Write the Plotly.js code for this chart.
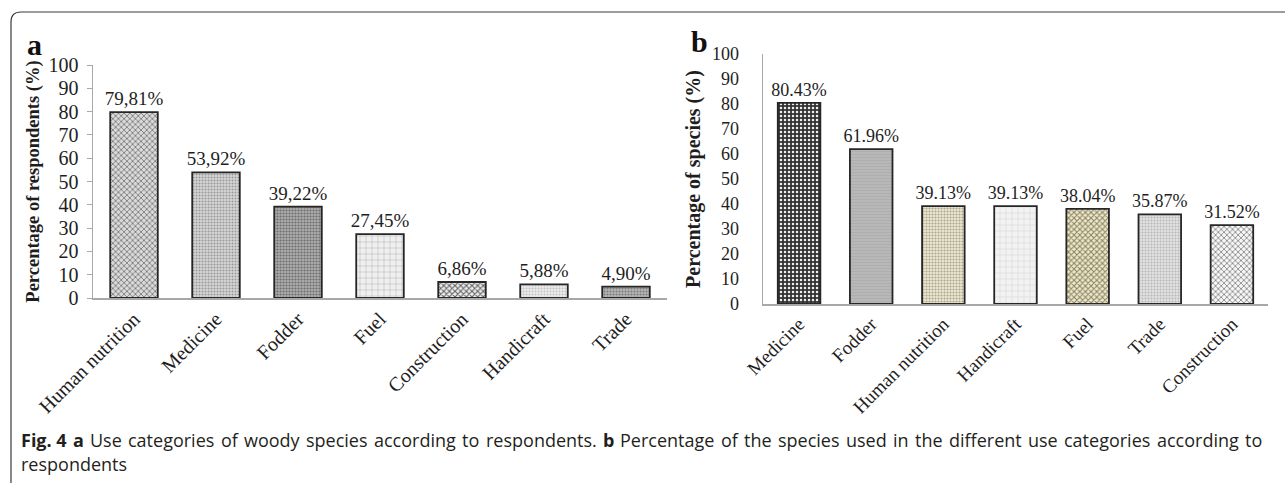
<!DOCTYPE html>
<html>
<head>
<meta charset="utf-8">
<script src="https://cdn.plot.ly/plotly-3.0.1.min.js"></script>
<style>
  html, body { margin: 0; padding: 0; background: #fff; }
  #chart { width: 1285px; height: 483px; }
</style>
</head>
<body>
<div id="chart"></div>
<script>
// ---- Data ----
const categoriesA = ['Human nutrition', 'Medicine', 'Fodder', 'Fuel', 'Construction', 'Handicraft', 'Trade'];
const valuesA = [79.81, 53.92, 39.22, 27.45, 6.86, 5.88, 4.90];
const labelsA = ['79,81%', '53,92%', '39,22%', '27,45%', '6,86%', '5,88%', '4,90%'];

const categoriesB = ['Medicine', 'Fodder', 'Human nutrition', 'Handicraft', 'Fuel', 'Trade', 'Construction'];
const valuesB = [80.43, 61.96, 39.13, 39.13, 38.04, 35.87, 31.52];
const labelsB = ['80.43%', '61.96%', '39.13%', '39.13%', '38.04%', '35.87%', '31.52%'];

const yTickValues = [0, 10, 20, 30, 40, 50, 60, 70, 80, 90, 100];

const titleA = 'Percentage of respondents (%)';
const titleB = 'Percentage of species (%)';
const captionWords1 = ['Fig. 4', 'a', 'Use', 'categories', 'of', 'woody', 'species', 'according', 'to', 'respondents.',
  'b', 'Percentage', 'of', 'the', 'species', 'used', 'in', 'the', 'different', 'use', 'categories', 'according', 'to'];
const captionBold1 = [true, true, false, false, false, false, false, false, false, false,
  true, false, false, false, false, false, false, false, false, false, false, false, false];
const captionLine2 = 'respondents';

// ---- Styles ----
const serif = 'Liberation Serif, Times New Roman, serif';
const captionFont = 'Open Sans';
const captionSize = 18;
const textColor = '#1e1e1e';
const axisGray = '#a8a8a8';

const patternA = {
  shape:    ['x',       '.',       '.',       '+',       'x',       '.',       '.'],
  bgcolor:  ['#dadada', '#d6d6d6', '#adadad', '#efefef', '#eeeeee', '#ececec', '#b6b6b6'],
  fgcolor:  ['#6e6e6e', '#9a9a9a', '#6c6c6c', '#9a9a9a', '#5e5e5e', '#c4c4c4', '#7c7c7c'],
  size:     [4,          3,         3,         6,         4,         3,         3],
  solidity: [0.35,       0.4,       0.4,       0.12,      0.45,      0.35,      0.4]
};

const patternB = {
  shape:    ['.',       '-',       '.',       '+',       'x',       '.',       'x'],
  bgcolor:  ['#333333', '#b8b8b8', '#ebe8d6', '#f2f2f2', '#eee9cc', '#e2e2e2', '#f6f6f6'],
  fgcolor:  ['#f0f0f0', '#a8a8a8', '#aca685', '#c6c6c6', '#8a8363', '#b6b6b6', '#8a8a8a'],
  size:     [4,          3,         3,         6,         4,         3,         4],
  solidity: [0.3,        0.2,       0.4,       0.12,      0.45,      0.35,      0.4]
};

const W = 1285, H = 483;
const px = v => v / W;
const py = v => 1 - v / H;

const traceA = {
  type: 'bar',
  x: categoriesA,
  y: valuesA,
  text: labelsA,
  textposition: 'outside',
  constraintext: 'none',
  cliponaxis: false,
  textfont: { family: serif, size: 19, color: textColor },
  width: 0.58,
  marker: {
    color: '#cccccc',
    line: { color: '#262626', width: 1.8 },
    pattern: Object.assign({ fillmode: 'replace' }, patternA)
  },
  xaxis: 'x', yaxis: 'y',
  hoverinfo: 'x+y',
  showlegend: false
};

const traceB = {
  type: 'bar',
  x: categoriesB,
  y: valuesB,
  text: labelsB,
  textposition: 'outside',
  constraintext: 'none',
  cliponaxis: false,
  textfont: { family: serif, size: 18, color: textColor },
  width: 0.59,
  marker: {
    color: '#cccccc',
    line: { color: '#262626', width: 1.8 },
    pattern: Object.assign({ fillmode: 'replace' }, patternB)
  },
  xaxis: 'x2', yaxis: 'y2',
  hoverinfo: 'x+y',
  showlegend: false
};

// Frame (rounded rectangle, top and left edges visible)
const fx0 = px(11), fy0 = py(12), fy1 = py(492);
const rx = px(10), ry = 10 / H;
const framePath = `M ${px(1300)},${fy0} L ${fx0 + rx},${fy0} Q ${fx0},${fy0} ${fx0},${fy0 - ry} ` +
                  `L ${fx0},${fy1 + ry} Q ${fx0},${fy1} ${fx0 + rx},${fy1}`;

// Justified caption line: measure words, spread them between left and right margins
const canvas = document.createElement('canvas');
const ctx = canvas.getContext('2d');
function measure(t, bold) {
  ctx.font = (bold ? 'bold ' : '') + captionSize + 'px "' + captionFont + '"';
  return ctx.measureText(t).width;
}
const capLeft = 21, capRight = 1262;
const wordWidths = captionWords1.map((w, i) => measure(w, captionBold1[i]));
const totalW = wordWidths.reduce((a, b) => a + b, 0);
const gap = (capRight - capLeft - totalW) / (captionWords1.length - 1);
const captionAnnotations = [];
let cx = capLeft;
captionWords1.forEach((w, i) => {
  captionAnnotations.push({
    xref: 'paper', yref: 'paper', x: px(cx), y: py(440),
    text: captionBold1[i] ? '<b>' + w + '</b>' : w,
    showarrow: false, xanchor: 'left', yanchor: 'middle', borderpad: 0, borderwidth: 0,
    font: { family: captionFont + ', Noto Sans, sans-serif', size: captionSize, color: '#231f20' }
  });
  cx += wordWidths[i] + gap;
});
captionAnnotations.push({
  xref: 'paper', yref: 'paper', x: px(capLeft), y: py(464), text: captionLine2,
  showarrow: false, xanchor: 'left', yanchor: 'middle', borderpad: 0, borderwidth: 0,
  font: { family: captionFont + ', Noto Sans, sans-serif', size: captionSize, color: '#231f20' }
});

const layout = {
  width: W, height: H,
  margin: { l: 0, r: 0, t: 0, b: 0 },
  paper_bgcolor: '#ffffff',
  plot_bgcolor: '#ffffff',
  font: { family: serif, color: textColor },
  xaxis: {
    domain: [px(93), px(667)],
    anchor: 'y',
    showline: true, linecolor: axisGray, linewidth: 1.5,
    ticks: '', tickangle: -45,
    tickfont: { family: serif, size: 20, color: textColor },
    showgrid: false, zeroline: false, fixedrange: true
  },
  yaxis: {
    domain: [py(298), py(65)],
    anchor: 'x',
    range: [0, 100],
    tickvals: yTickValues,
    ticks: 'outside', ticklen: 5, tickcolor: axisGray, tickwidth: 1,
    ticklabelstandoff: 4,
    showline: true, linecolor: axisGray, linewidth: 1.5,
    tickfont: { family: serif, size: 20, color: textColor },
    showgrid: false, zeroline: false, fixedrange: true,
    title: { text: '<b>' + titleA + '</b>', font: { family: serif, size: 18.5, color: textColor }, standoff: 4 }
  },
  xaxis2: {
    domain: [px(763), px(1268)],
    anchor: 'y2',
    showline: true, linecolor: axisGray, linewidth: 1.5,
    ticks: '', tickangle: -45,
    tickfont: { family: serif, size: 19, color: textColor },
    showgrid: false, zeroline: false, fixedrange: true
  },
  yaxis2: {
    domain: [py(304), py(54)],
    anchor: 'x2',
    range: [0, 100],
    tickvals: yTickValues,
    ticks: '', ticklabelstandoff: 19,
    showline: true, linecolor: axisGray, linewidth: 1.5,
    tickfont: { family: serif, size: 18, color: textColor },
    showgrid: false, zeroline: false, fixedrange: true,
    title: { text: '<b>' + titleB + '</b>', font: { family: serif, size: 20, color: textColor }, standoff: 6 }
  },
  shapes: [
    { type: 'path', xref: 'paper', yref: 'paper', path: framePath,
      line: { color: '#3a3a3a', width: 1.2 } }
  ],
  annotations: [
    { xref: 'paper', yref: 'paper', x: px(34), y: py(44), text: '<b>a</b>', showarrow: false,
      xanchor: 'center', yanchor: 'middle', font: { family: serif, size: 30, color: '#111' } },
    { xref: 'paper', yref: 'paper', x: px(700), y: py(41), text: '<b>b</b>', showarrow: false,
      xanchor: 'center', yanchor: 'middle', font: { family: serif, size: 30, color: '#111' } }
  ].concat(captionAnnotations)
};

Plotly.newPlot('chart', [traceA, traceB], layout, { displayModeBar: false, staticPlot: true });
</script>
</body>
</html>
